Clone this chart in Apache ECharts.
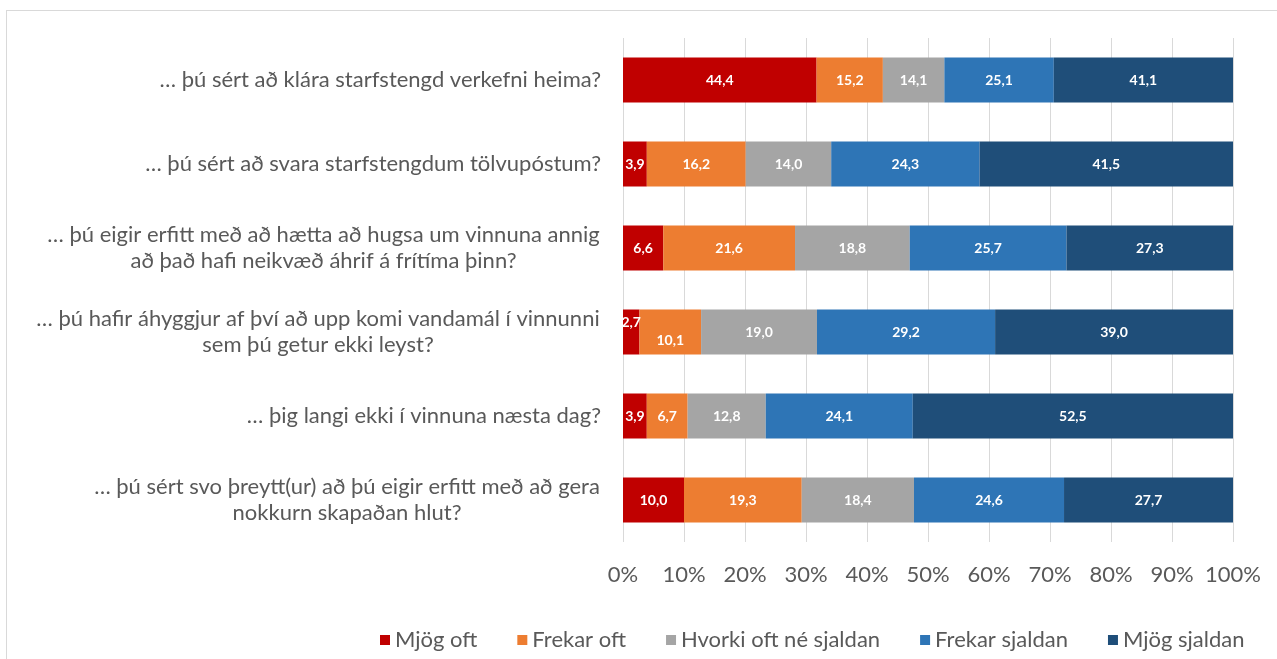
<!DOCTYPE html>
<html>
<head>
<meta charset="utf-8">
<script src="https://cdn.jsdelivr.net/npm/echarts@6/dist/echarts.min.js"></script>
<style>
html,body{margin:0;padding:0;background:#fff;overflow:hidden;}
#frame{position:absolute;left:6px;top:10px;width:1400px;height:800px;border-left:1px solid #d9d9d9;border-top:1px solid #d9d9d9;}
#chart{position:absolute;left:0;top:0;width:1277px;height:659px;}
</style>
</head>
<body>
<div id="frame"></div>
<div id="chart"></div>
<script>
var categories = [
  "… þú sért að klára starfstengd verkefni heima?",
  "… þú sért að svara starfstengdum tölvupóstum?",
  "… þú eigir erfitt með að hætta að hugsa um vinnuna annig\nað það hafi neikvæð áhrif á frítíma þinn?",
  "… þú hafir áhyggjur af því að upp komi vandamál í vinnunni\nsem þú getur ekki leyst?",
  "… þig langi ekki í vinnuna næsta dag?",
  "… þú sért svo þreytt(ur) að þú eigir erfitt með að gera\nnokkurn skapaðan hlut?"
];
var seriesNames = ["Mjög oft", "Frekar oft", "Hvorki oft né sjaldan", "Frekar sjaldan", "Mjög sjaldan"];
var mjogOft       = [44.4, 3.9, 6.6, 2.7, 3.9, 10.0];
var frekarOft     = [15.2, 16.2, 21.6, 10.1, 6.7, 19.3];
var hvorki        = [14.1, 14.0, 18.8, 19.0, 12.8, 18.4];
var frekarSjaldan = [25.1, 24.3, 25.7, 29.2, 24.1, 24.6];
var mjogSjaldan   = [41.1, 41.5, 27.3, 39.0, 52.5, 27.7];
var xTickLabels = ["0%", "10%", "20%", "30%", "40%", "50%", "60%", "70%", "80%", "90%", "100%"];

var colors = ["#C00000", "#ED7D31", "#A5A5A5", "#2E75B6", "#1F4E79"];
var raw = [mjogOft, frekarOft, hvorki, frekarSjaldan, mjogSjaldan];
var totals = categories.map(function (c, i) {
  return raw.reduce(function (s, arr) { return s + arr[i]; }, 0);
});

var FONT = "Lato";
var FS = 22;
var ctx = document.createElement('canvas').getContext('2d');
ctx.font = FS + "px " + FONT;
var rich = {};
categories.forEach(function (c, i) {
  var w = 0;
  c.split("\n").forEach(function (l) { w = Math.max(w, ctx.measureText(l).width); });
  rich['w' + i] = { width: Math.ceil(w) + 2, align: 'center', color: '#595959', fontSize: FS, fontFamily: FONT, lineHeight: 26 };
});

// label nudges for tiny segments (row 4)
var labelNudge = { "0_3": [0, -10], "1_3": [0, 8] };

var series = raw.map(function (arr, s) {
  return {
    name: seriesNames[s],
    type: 'bar',
    stack: 'total',
    barWidth: 45,
    itemStyle: { color: colors[s] },
    label: {
      show: true,
      color: '#fff',
      fontFamily: FONT,
      fontWeight: 'bold',
      fontSize: 14,
      formatter: function (p) { return arr[p.dataIndex].toFixed(1).replace('.', ','); }
    },
    data: arr.map(function (v, i) {
      var d = { value: v / totals[i] * 100 };
      var n = labelNudge[s + "_" + i];
      if (n) d.label = { offset: n };
      return d;
    })
  };
});

var chart = echarts.init(document.getElementById('chart'));
chart.setOption({
  animation: false,
  color: colors,
  textStyle: { fontFamily: FONT },
  grid: { left: 623, right: 44, top: 38, bottom: 117 },
  xAxis: {
    type: 'value', min: 0, max: 100, interval: 10,
    axisLine: { show: false }, axisTick: { show: false },
    splitLine: { lineStyle: { color: '#d9d9d9' } },
    axisLabel: {
      color: '#595959', fontSize: FS, fontFamily: FONT, margin: 22,
      formatter: function (v) { return xTickLabels[Math.round(v / 10)]; }
    }
  },
  yAxis: {
    type: 'category', inverse: true, data: categories,
    axisLine: { show: false }, axisTick: { show: false },
    axisLabel: {
      margin: 22, color: '#595959', fontSize: FS, fontFamily: FONT, lineHeight: 26,
      formatter: function (v, idx) {
        var lines = v.split("\n");
        if (lines.length === 1) return v;
        var key = 'w' + categories.indexOf(v);
        return lines.map(function (l) { return '{' + key + '|' + l + '}'; }).join("\n");
      },
      rich: rich
    }
  },
  legend: {
    left: 375, top: 624,
    itemWidth: 10, itemHeight: 10, itemGap: 40,
    icon: 'rect',
    textStyle: { color: '#595959', fontSize: FS, fontFamily: FONT, padding: [0, 0, 0, 0] },
    data: seriesNames
  },
  series: series
});
</script>
</body>
</html>
